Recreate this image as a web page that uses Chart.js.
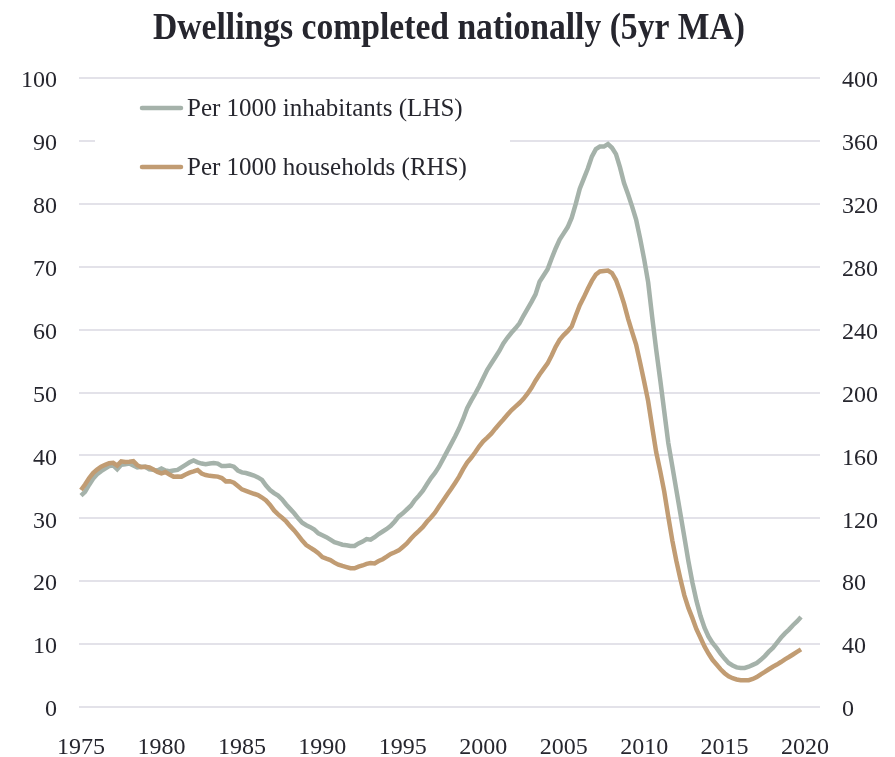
<!DOCTYPE html>
<html>
<head>
<meta charset="utf-8">
<script src="https://cdn.jsdelivr.net/npm/chart.js@4.4.1/dist/chart.umd.min.js"></script>
<style>
  html, body { margin: 0; padding: 0; background: #ffffff; }
  #wrap { width: 895px; height: 757px; position: relative; }
</style>
</head>
<body>
<div id="wrap"><canvas id="chart"></canvas></div>
<script>
// Quarterly series, first quarter of 1975 onwards
const startYear = 1975;
const periodsPerYear = 4;

const titleText = 'Dwellings completed nationally (5yr MA)';
const seriesLabels = ['Per 1000 inhabitants (LHS)', 'Per 1000 households (RHS)'];
const yearTicks = [1975, 1980, 1985, 1990, 1995, 2000, 2005, 2010, 2015, 2020];
const leftTicks = [0, 10, 20, 30, 40, 50, 60, 70, 80, 90, 100];
const rightTicks = [0, 40, 80, 120, 160, 200, 240, 280, 320, 360, 400];

// Dwellings completed per 1000 inhabitants (left axis)
const perInhabitants = [
  33.6, 34.2, 35.3, 36.3,
  37.0, 37.5, 37.9, 38.3,
  38.4, 37.8, 38.5, 38.6,
  38.7, 38.4, 38.1, 38.2,
  38.2, 37.8, 37.7, 37.6,
  37.9, 37.6, 37.5, 37.6,
  37.7, 38.1, 38.5, 38.9,
  39.2, 38.9, 38.7, 38.6,
  38.7, 38.8, 38.7, 38.3,
  38.3, 38.4, 38.2, 37.6,
  37.3, 37.2, 37.0, 36.8,
  36.5, 36.1, 35.2, 34.5,
  34.0, 33.6, 33.0, 32.2,
  31.5, 30.8, 30.0, 29.3,
  28.9, 28.6, 28.2, 27.6,
  27.3, 27.0, 26.6, 26.2,
  26.0, 25.8, 25.7, 25.6,
  25.6, 26.0, 26.3, 26.7,
  26.6, 27.0, 27.5, 27.9,
  28.3, 28.8, 29.5, 30.3,
  30.8, 31.4, 32.0, 32.9,
  33.6, 34.4, 35.4, 36.4,
  37.2, 38.2, 39.4, 40.6,
  41.8, 43.0, 44.3, 45.8,
  47.5, 48.7, 49.8, 51.0,
  52.3, 53.6, 54.6, 55.6,
  56.6, 57.8, 58.7, 59.5,
  60.2, 61.0, 62.2, 63.3,
  64.4, 65.6, 67.6, 68.6,
  69.6, 71.3, 72.9, 74.3,
  75.3, 76.3, 77.8, 80.0,
  82.4, 84.0, 85.6, 87.5,
  88.7, 89.1, 89.1, 89.5,
  88.9, 87.9, 85.8, 83.3,
  81.5, 79.6, 77.5, 74.5,
  71.2, 67.5, 62.0, 56.8,
  52.0, 47.0, 42.0, 38.3,
  34.5, 30.8, 27.0, 23.2,
  19.8, 16.9, 14.5, 12.6,
  11.2, 10.2, 9.4, 8.5,
  7.7, 7.0, 6.6, 6.3,
  6.2, 6.2, 6.4, 6.7,
  7.0, 7.5, 8.1, 8.8,
  9.4, 10.2, 11.0, 11.7,
  12.3, 13.0, 13.6, 14.3
];

// Dwellings completed per 1000 households (right axis)
const perHouseholds = [
  138.0, 141.5, 145.5, 148.8,
  151.0, 152.8, 154.0, 155.0,
  155.3, 153.5, 156.2, 155.8,
  156.0, 156.3, 153.8, 152.5,
  152.8, 152.4, 151.0, 149.5,
  148.6, 149.4, 147.8, 146.5,
  146.6, 146.5, 147.8, 149.0,
  149.8, 150.7, 148.5, 147.5,
  147.0, 146.8, 146.5, 145.6,
  143.5, 143.6, 142.6, 140.5,
  138.4, 137.5, 136.5, 135.6,
  134.8, 133.2, 131.3, 128.5,
  125.0, 122.5, 120.3, 118.0,
  115.0, 112.3, 109.2, 105.8,
  103.0, 101.3, 99.7, 97.8,
  95.3, 94.3, 93.4, 91.8,
  90.5, 89.7, 89.0, 88.3,
  88.2, 89.3, 90.0, 91.0,
  91.5, 91.3, 92.8, 94.0,
  95.6, 97.3, 98.4, 99.6,
  101.8, 104.0, 107.0, 109.7,
  112.0, 114.5, 117.8, 120.5,
  123.6, 127.5, 131.2, 135.0,
  138.6, 142.5, 146.5, 151.3,
  155.5, 158.5, 162.0, 165.8,
  169.0, 171.3, 173.8, 177.0,
  180.0, 182.8, 185.8, 188.7,
  191.0, 193.3, 196.0, 199.2,
  203.0, 207.5, 211.5, 215.0,
  218.5, 223.5, 229.0, 233.5,
  236.5, 239.0, 242.0, 249.0,
  255.5, 260.5, 266.0, 271.0,
  275.0, 277.0, 277.3, 277.6,
  276.0, 271.5, 264.5, 256.5,
  247.0, 238.5, 230.5, 219.0,
  207.0, 194.5, 178.0, 162.0,
  150.0, 137.0, 121.0, 106.0,
  93.0, 81.5, 71.0, 63.0,
  56.5, 49.5, 44.0, 38.5,
  34.0, 30.0, 27.0, 24.0,
  21.5, 19.5, 18.3, 17.5,
  17.0, 17.0, 17.0, 17.8,
  19.0, 20.8, 22.3, 24.0,
  25.6, 27.0, 28.6, 30.3,
  31.8, 33.4, 35.0, 36.6
];

const toPoints = values => values.map((v, i) => ({ x: startYear + i / periodsPerYear, y: v }));

const GREY = '#a5b2aa';
const TAN = '#c19c73';
const TEXT = '#26262e';
const SERIF = '"Liberation Serif", "Times New Roman", serif';

// Bold condensed heading across the top
const titlePlugin = {
  id: 'heading',
  afterDraw(chart) {
    const ctx = chart.ctx;
    ctx.save();
    ctx.font = 'bold 38px ' + SERIF;
    ctx.fillStyle = TEXT;
    ctx.textBaseline = 'alphabetic';
    ctx.textAlign = 'left';
    const w = ctx.measureText(titleText).width;
    const target = 592;
    const sx = target / w;
    const cx = 449;
    ctx.translate(cx - target / 2, 39);
    ctx.scale(sx, 1);
    ctx.fillText(titleText, 0, 0);
    ctx.restore();
  }
};

// Legend box placed inside the plot area, top left
const legendPlugin = {
  id: 'insetLegend',
  afterDraw(chart) {
    const ctx = chart.ctx;
    const ds = chart.data.datasets;
    ctx.save();
    ctx.fillStyle = '#ffffff';
    ctx.fillRect(95, 86, 415, 112);
    ctx.font = '25px ' + SERIF;
    ctx.textBaseline = 'middle';
    ctx.textAlign = 'left';
    const rows = [108, 167];
    ds.forEach((d, i) => {
      const y = rows[i];
      ctx.strokeStyle = d.borderColor;
      ctx.lineWidth = 4.5;
      ctx.lineCap = 'round';
      ctx.beginPath();
      ctx.moveTo(142, y);
      ctx.lineTo(181, y);
      ctx.stroke();
      ctx.fillStyle = TEXT;
      ctx.fillText(d.label, 187, y + 1);
    });
    ctx.restore();
  }
};

new Chart(document.getElementById('chart'), {
  type: 'line',
  data: {
    datasets: [
      {
        label: seriesLabels[0],
        data: toPoints(perInhabitants),
        yAxisID: 'yLeft',
        borderColor: GREY,
        backgroundColor: GREY,
        borderWidth: 4.5,
        pointRadius: 0,
        tension: 0,
        order: 1
      },
      {
        label: seriesLabels[1],
        data: toPoints(perHouseholds),
        yAxisID: 'yRight',
        borderColor: TAN,
        backgroundColor: TAN,
        borderWidth: 4.5,
        pointRadius: 0,
        tension: 0,
        order: 0
      }
    ]
  },
  options: {
    responsive: true,
    maintainAspectRatio: false,
    animation: false,
    layout: { padding: { top: 78, bottom: 0, left: 0, right: 0 } },
    plugins: {
      legend: { display: false },
      title: { display: false },
      tooltip: { enabled: false }
    },
    scales: {
      x: {
        type: 'linear',
        min: 1974.876,
        max: 2020.93,
        grid: { display: false, drawTicks: false },
        border: { display: false },
        afterBuildTicks: s => { s.ticks = yearTicks.map(v => ({ value: v })); },
        afterFit: s => { s.height = 50; },
        ticks: {
          autoSkip: false,
          maxRotation: 0,
          padding: 26,
          color: TEXT,
          font: { family: SERIF, size: 24 },
          callback: v => String(v)
        }
      },
      yLeft: {
        position: 'left',
        min: 0,
        max: 100,
        afterBuildTicks: s => { s.ticks = leftTicks.map(v => ({ value: v })); },
        afterFit: s => { s.width = 79; },
        grid: { color: '#e3e2e9', lineWidth: 2, drawTicks: false },
        border: { display: false },
        ticks: {
          padding: 22,
          labelOffset: 3,
          color: TEXT,
          font: { family: SERIF, size: 24 }
        }
      },
      yRight: {
        position: 'right',
        min: 0,
        max: 400,
        afterBuildTicks: s => { s.ticks = rightTicks.map(v => ({ value: v })); },
        afterFit: s => { s.width = 75; },
        grid: { display: false, drawTicks: false },
        border: { display: false },
        ticks: {
          padding: 22,
          labelOffset: 3,
          color: TEXT,
          font: { family: SERIF, size: 24 }
        }
      }
    }
  },
  plugins: [titlePlugin, legendPlugin]
});
</script>
</body>
</html>
